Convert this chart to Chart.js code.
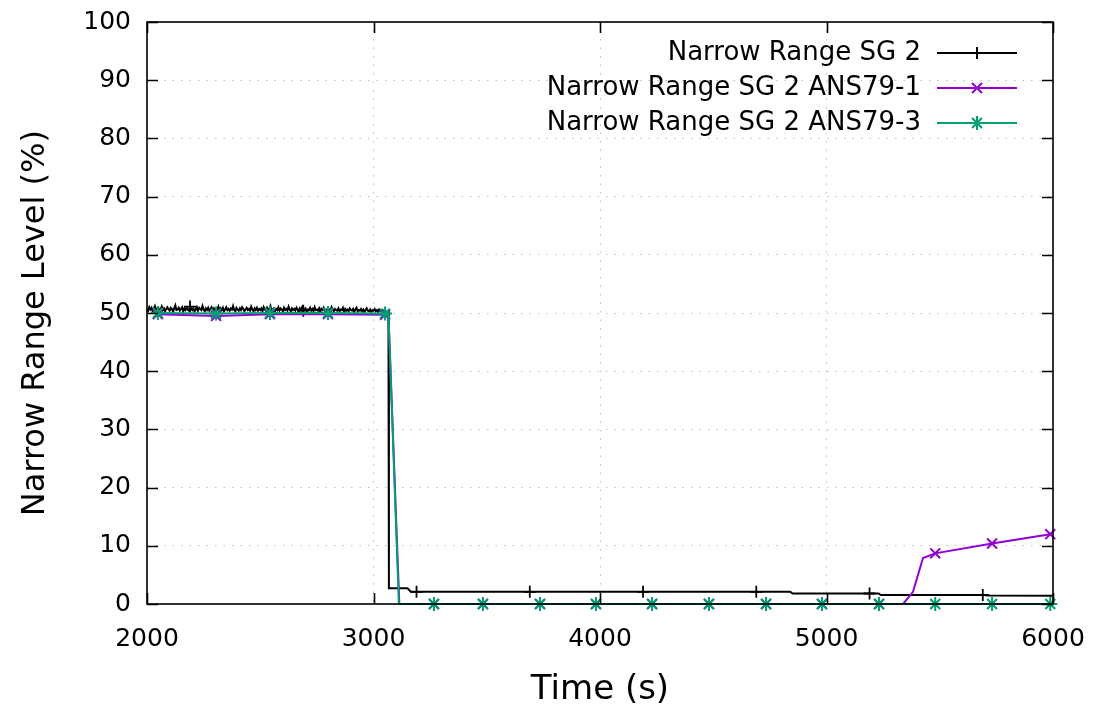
<!DOCTYPE html>
<html>
<head>
<meta charset="utf-8">
<script src="https://cdn.jsdelivr.net/npm/chart.js@4"></script>
<style>
  html, body { margin: 0; padding: 0; background: #fff; }
</style>
</head>
<body>
<canvas id="myChart" width="1094" height="719"></canvas>
<script>
// Series labels
var seriesLabels = ["Narrow Range SG 2", "Narrow Range SG 2 ANS79-1", "Narrow Range SG 2 ANS79-3"];

// Narrow Range SG 2 - noisy part sampled every 5 s from 2000 s
var sg2EarlyStart = 2000;
var sg2EarlyStep = 5;
var sg2EarlyLevel = [
    50.7, 50.4, 51.0, 50.6, 50.9, 50.3, 50.8, 51.2, 50.5, 50.7,
    50.9, 50.4, 50.6, 51.1, 50.5, 50.8, 50.3, 50.7, 51.0, 50.6,
    50.4, 50.9, 50.7, 50.2, 50.8, 51.3, 50.5, 50.6, 50.9, 50.4,
    50.7, 51.0, 50.3, 50.8, 50.5, 50.9, 50.6, 50.4, 51.1, 50.7,
    50.5, 50.8, 50.3, 50.6, 51.0, 50.4, 50.9, 50.7, 50.5, 51.2,
    50.6, 50.3, 50.8, 50.5, 50.9, 50.4, 50.7, 51.0, 50.5, 50.8,
    50.3, 50.7, 50.6, 51.1, 50.4, 50.8, 50.5, 50.9, 50.3, 50.6,
    51.0, 50.5, 50.7, 50.4, 50.8, 50.6, 51.2, 50.5, 50.3, 50.9,
    50.6, 50.4, 50.8, 50.5, 51.0, 50.7, 50.3, 50.6, 50.9, 50.5,
    50.7, 50.4, 51.1, 50.6, 50.3, 50.8, 50.5, 50.9, 50.4, 50.7,
    50.5, 50.8, 50.3, 51.0, 50.6, 50.4, 50.9, 50.5, 50.7, 51.2,
    50.4, 50.6, 50.8, 50.3, 50.7, 50.5, 51.0, 50.4, 50.8, 50.6,
    50.3, 50.9, 50.5, 50.7, 50.4, 51.1, 50.6, 50.3, 50.8, 50.5,
    50.7, 50.4, 50.9, 50.6, 50.2, 50.8, 50.5, 51.0, 50.4, 50.6,
    50.8, 50.3, 50.6, 50.5, 50.9, 50.4, 50.7, 50.3, 51.0, 50.5,
    50.6, 50.4, 50.8, 50.2, 50.7, 50.5, 50.9, 50.4, 50.6, 50.3,
    50.8, 50.5, 50.4, 51.0, 50.6, 50.3, 50.7, 50.5, 50.4, 50.8,
    50.3, 50.6, 50.5, 50.9, 50.2, 50.7, 50.4, 50.6, 50.3, 50.8,
    50.5, 50.4, 50.7, 50.2, 50.6, 50.9, 50.3, 50.5, 50.4, 50.7,
    50.3, 50.6, 50.2, 50.5, 50.8, 50.4, 50.3, 50.6, 50.2, 50.5,
    50.4, 50.7, 50.3, 50.5, 50.2, 50.6, 50.4, 50.3, 50.5, 50.2,
    50.4, 50.3, 50.1
];
// Narrow Range SG 2 - after the drop
var sg2LateTime  = [3066, 3068, 3150, 3165, 3190, 3690, 4190, 4690, 4840, 4850, 5190, 5230, 5240, 5690, 5720, 6000];
var sg2LateLevel = [50.2, 2.7,  2.7,  2.1,  2.1,  2.1,  2.1,  2.1,  2.1,  1.8,  1.8,  1.8,  1.55, 1.55, 1.45, 1.4];
var sg2MarkerTimes = [2190, 2690, 3190, 3690, 4190, 4690, 5190, 5690];

// Narrow Range SG 2 ANS79-1
var ans1Time  = [2048, 2305, 2543, 2799, 3051, 3066, 3114, 3267, 3483, 3735, 3982, 4230, 4481, 4733, 4980, 5232, 5338, 5382, 5426, 5480, 5731, 5988];
var ans1Level = [49.8, 49.5, 49.8, 49.8, 49.7, 49.7, 0,    0,    0,    0,    0,    0,    0,    0,    0,    0,    0,    2.1,  7.9,  8.7,  10.4, 12.0];

// Narrow Range SG 2 ANS79-3
var ans3Time  = [2048, 2305, 2543, 2799, 3051, 3066, 3112, 3267, 3483, 3735, 3982, 4230, 4481, 4733, 4980, 5232, 5480, 5731, 5988];
var ans3Level = [50.0, 49.9, 50.0, 50.0, 49.9, 49.9, 0,    0,    0,    0,    0,    0,    0,    0,    0,    0,    0,    0,    0];
var ansMarkerTimes = [2048, 2305, 2543, 2799, 3051, 3267, 3483, 3735, 3982, 4230, 4481, 4733, 4980, 5232, 5480, 5731, 5988];

// Axis ticks
var xTicks = [2000, 3000, 4000, 5000, 6000];
var yTicks = [0, 10, 20, 30, 40, 50, 60, 70, 80, 90, 100];

var FONT = '"DejaVu Sans", Verdana, sans-serif';

function toPoints(times, levels) {
    var pts = [];
    for (var i = 0; i < times.length; i++) pts.push({ x: times[i], y: levels[i] });
    return pts;
}

var sg2Points = [];
for (var i = 0; i < sg2EarlyLevel.length; i++) {
    sg2Points.push({ x: sg2EarlyStart + i * sg2EarlyStep, y: sg2EarlyLevel[i] });
}
sg2Points = sg2Points.concat(toPoints(sg2LateTime, sg2LateLevel));

function markerRadius(markerTimes, r) {
    return function (ctx) {
        var p = ctx.raw;
        return (p && markerTimes.indexOf(p.x) >= 0) ? r : 0;
    };
}

var data = {
    datasets: [
        {
            label: seriesLabels[0],
            data: sg2Points,
            borderColor: "#000000",
            backgroundColor: "#000000",
            borderWidth: 2,
            pointStyle: 'cross',
            pointRadius: markerRadius(sg2MarkerTimes, 6),
            pointBorderWidth: 1.8,
            markerSize: 6,
            order: 3
        },
        {
            label: seriesLabels[1],
            data: toPoints(ans1Time, ans1Level),
            borderColor: "#9400d3",
            backgroundColor: "#9400d3",
            borderWidth: 2,
            pointStyle: 'crossRot',
            pointRadius: markerRadius(ansMarkerTimes, 7),
            pointBorderWidth: 2,
            markerSize: 7,
            order: 2
        },
        {
            label: seriesLabels[2],
            data: toPoints(ans3Time, ans3Level),
            borderColor: "#009e73",
            backgroundColor: "#009e73",
            borderWidth: 2,
            pointStyle: 'star',
            pointRadius: markerRadius(ansMarkerTimes, 7),
            pointBorderWidth: 2,
            markerSize: 7,
            order: 1
        }
    ]
};

// gnuplot style frame with inward ticks
var framePlugin = {
    id: 'frame',
    afterDatasetsDraw: function (chart) {
        var ctx = chart.ctx, a = chart.chartArea;
        var xs = chart.scales.x, ys = chart.scales.y;
        var len = 11;
        ctx.save();
        ctx.strokeStyle = '#000';
        ctx.lineWidth = 1.6;
        ctx.strokeRect(a.left, a.top, a.right - a.left, a.bottom - a.top);
        ctx.beginPath();
        xTicks.forEach(function (v) {
            var px = Math.round(xs.getPixelForValue(v)) + 0.5;
            ctx.moveTo(px, a.bottom); ctx.lineTo(px, a.bottom - len);
            ctx.moveTo(px, a.top); ctx.lineTo(px, a.top + len);
        });
        yTicks.forEach(function (v) {
            var py = Math.round(ys.getPixelForValue(v)) + 0.5;
            ctx.moveTo(a.left, py); ctx.lineTo(a.left + len, py);
            ctx.moveTo(a.right, py); ctx.lineTo(a.right - len, py);
        });
        ctx.stroke();
        ctx.restore();
    }
};

// Legend: text right aligned, sample line on the right
var legendPlugin = {
    id: 'gnuLegend',
    afterDraw: function (chart) {
        var ctx = chart.ctx;
        ctx.save();
        ctx.font = '26px ' + FONT;
        ctx.textAlign = 'right';
        ctx.textBaseline = 'middle';
        chart.data.datasets.forEach(function (ds, i) {
            var y = 53 + i * 35;
            ctx.fillStyle = '#000';
            ctx.fillText(ds.label, 921, y);
            ctx.strokeStyle = ds.borderColor;
            ctx.fillStyle = ds.borderColor;
            ctx.lineWidth = ds.borderWidth;
            ctx.beginPath();
            ctx.moveTo(937, y);
            ctx.lineTo(1017, y);
            ctx.stroke();
            Chart.helpers.drawPoint(ctx, { pointStyle: ds.pointStyle, radius: ds.markerSize, borderWidth: ds.pointBorderWidth, rotation: 0 }, 977, y);
        });
        ctx.restore();
    }
};

function plainTick(value) { return String(value); }

var chartOptions = {
    responsive: false,
    animation: false,
    devicePixelRatio: 1,
    events: [],
    layout: { padding: { left: 0, top: 22, right: 41, bottom: 0 } },
    plugins: {
        legend: { display: false },
        tooltip: { enabled: false }
    },
    elements: {
        line: { tension: 0, fill: false },
        point: { hoverRadius: 0 }
    },
    datasets: { line: { clip: false } },
    scales: {
        x: {
            type: 'linear',
            min: 2000,
            max: 6000,
            afterFit: function (scale) {
                scale.height = 115;
                scale.paddingLeft = 0;
                scale.paddingRight = 0;
            },
            afterBuildTicks: function (scale) { scale.ticks = xTicks.map(function (v) { return { value: v }; }); },
            ticks: { color: '#000', font: { family: FONT, size: 25 }, padding: 20, maxRotation: 0, callback: plainTick },
            grid: { color: '#c0c0c0', lineWidth: 1, drawTicks: false },
            border: { display: false, dash: [1.5, 7] },
            title: { display: true, text: 'Time (s)', color: '#000', font: { family: FONT, size: 34 }, padding: { top: 0, bottom: 8 } }
        },
        y: {
            type: 'linear',
            min: 0,
            max: 100,
            afterFit: function (scale) {
                scale.width = 147;
                scale.paddingTop = 0;
                scale.paddingBottom = 0;
            },
            afterBuildTicks: function (scale) { scale.ticks = yTicks.map(function (v) { return { value: v }; }); },
            ticks: { color: '#000', font: { family: FONT, size: 25 }, padding: 16, callback: plainTick },
            grid: { color: '#c0c0c0', lineWidth: 1, drawTicks: false },
            border: { display: false, dash: [1.5, 7] },
            // trailing spaces nudge the rotated title down to match the original placement
            title: { display: true, text: 'Narrow Range Level (%)  ', color: '#000', font: { family: FONT, size: 32 }, padding: { top: 16, bottom: 0 } }
        }
    }
};

var ctx = document.getElementById("myChart").getContext('2d');
var myLineChart = new Chart(ctx, {
    type: 'line',
    data: data,
    options: chartOptions,
    plugins: [framePlugin, legendPlugin]
});
</script>
</body>
</html>
